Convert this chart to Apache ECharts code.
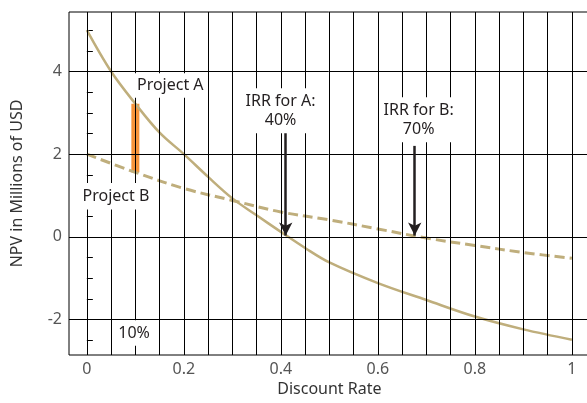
<!DOCTYPE html>
<html><head><meta charset="utf-8">
<script src="https://cdn.jsdelivr.net/npm/echarts@6/dist/echarts.min.js"></script>
<style>html,body{margin:0;padding:0;background:#fff;overflow:hidden}#c{width:587px;height:403px}</style>
</head><body><div id="c"></div>
<script>
// ---- data ----
const ratesA = [0, 0.05, 0.1, 0.15, 0.2, 0.25, 0.3, 0.35, 0.4, 0.45, 0.5, 0.6, 0.7, 0.8, 0.9, 1.0];
const npvA   = [5.0, 4.0, 3.22, 2.52, 2.0, 1.45, 0.93, 0.52, 0.12, -0.27, -0.62, -1.12, -1.53, -1.93, -2.24, -2.49];
const ratesB = [0, 0.1, 0.2, 0.3, 0.4, 0.5, 0.6, 0.7, 0.8, 0.9, 1.0];
const npvB   = [2.0, 1.56, 1.17, 0.88, 0.6, 0.41, 0.19, -0.03, -0.21, -0.38, -0.52];
const spreadRate = 0.1;
const spreadLow = 1.56;
const spreadHigh = 3.22;
const irrA = 0.41;
const irrB = 0.676;
const xTickLabels = [0, 0.2, 0.4, 0.6, 0.8, 1];
const yTickLabels = [-2, 0, 2, 4];
const yMinorTicks = [-2.5, -2, -1.5, -1, -0.5, 0, 0.5, 1, 1.5, 2, 2.5, 3, 3.5, 4, 4.5, 5];
const xGridValues = [0,0.05,0.1,0.15,0.2,0.25,0.3,0.35,0.4,0.45,0.5,0.55,0.6,0.65,0.7,0.75,0.8,0.85,0.9,0.95,1.0];
const xAxisTitle = 'Discount Rate';
const yAxisTitle = 'NPV in Millions of USD';
const textProjectA = 'Project A';
const textProjectB = 'Project B';
const textIrrA = 'IRR for A:\n40%';
const textIrrB = 'IRR for B:\n70%';
const textSpread = '10%';

const FONT = '"Noto Sans", "Open Sans", sans-serif';
const CURVE = '#bfae7c';
const INK = '#231f20';

const chart = echarts.init(document.getElementById('c'), null, {renderer: 'canvas'});

const gridLines = xGridValues.map(v => ({xAxis: v})).concat(yTickLabels.map(v => ({yAxis: v})));

function note(text, x, y, pad) {
  return {
    coord: [x, y], symbol: 'rect', symbolSize: 1,
    itemStyle: {color: 'rgba(0,0,0,0)'},
    label: {
      show: true, position: 'inside', formatter: text,
      fontFamily: FONT, fontSize: 16, color: INK, lineHeight: 18.5,
      backgroundColor: '#fff', padding: pad, align: 'center', verticalAlign: 'middle'
    }
  };
}

const option = {
  animation: false,
  grid: {left: 69, top: 12, width: 532, bottom: 48, show: true, borderColor: '#000', borderWidth: 1,
         containLabel: false, outerBoundsMode: 'none'},
  xAxis: {
    type: 'value', min: -0.0368, max: 1.06,
    axisLine: {show: false}, axisTick: {show: false}, splitLine: {show: false},
    axisLabel: {customValues: xTickLabels, fontFamily: FONT, fontSize: 16, color: '#555', margin: 6,
      formatter: v => String(+v.toFixed(2))}
  },
  yAxis: {
    type: 'value', min: -2.86, max: 5.44,
    name: yAxisTitle, nameLocation: 'middle', nameGap: 44,
    nameTextStyle: {fontFamily: FONT, fontSize: 16, color: '#333'},
    axisLine: {show: false}, splitLine: {show: false},
    axisTick: {show: true, inside: true, length: 6, customValues: yMinorTicks, lineStyle: {color: '#000', width: 1}},
    axisLabel: {customValues: yTickLabels, fontFamily: FONT, fontSize: 16, color: '#555', margin: 7}
  },
  series: [
    {
      name: 'grid', type: 'line', data: [], z: 1, silent: true,
      markLine: {silent: true, symbol: ['none', 'none'], label: {show: false}, animation: false,
        lineStyle: {color: '#000', width: 1, type: 'solid'}, emphasis: {disabled: true},
        data: gridLines}
    },
    {
      name: 'spread', type: 'line', z: 2, showSymbol: false, silent: true,
      data: [[spreadRate, spreadLow], [spreadRate, spreadHigh]],
      lineStyle: {color: '#f7943b', width: 8, cap: 'butt'}
    },
    {
      name: 'Project A', type: 'line', z: 3, showSymbol: false, smooth: 0.35, silent: true,
      data: ratesA.map((r, i) => [r, npvA[i]]),
      lineStyle: {color: CURVE, width: 2.5}
    },
    {
      name: 'Project B', type: 'line', z: 3, showSymbol: false, smooth: 0.35, silent: true,
      data: ratesB.map((r, i) => [r, npvB[i]]),
      lineStyle: {color: CURVE, width: 3, type: [10, 5]}
    },
    {
      name: 'arrows', type: 'line', data: [], z: 4, silent: true,
      markLine: {silent: true, symbol: ['none', 'arrow'], symbolSize: [10, 13], label: {show: false}, animation: false,
        lineStyle: {color: INK, width: 2.5, type: 'solid'}, emphasis: {disabled: true},
        data: [
          [{coord: [irrA, 2.55]}, {coord: [irrA, 0.03]}],
          [{coord: [irrB, 2.2]}, {coord: [irrB, 0.03]}]
        ]}
    },
    {
      name: 'notes', type: 'line', data: [], z: 5, silent: true,
      markPoint: {silent: true, animation: false, data: [
        note(textProjectA, 0.172, 3.66, [3, 3, 3, 3]),
        note(textProjectB, 0.060, 0.98, [5, 3, 3, 3]),
        note(textIrrA, 0.3994, 3.05, [4, 2, 4, 2]),
        note(textIrrB, 0.684, 2.83, [4, 2, 4, 2]),
        note(textSpread, 0.0974, -2.33, [4, 4, 3, 4])
      ]}
    }
  ]
};
chart.setOption(option);
// x-axis title centred under the visible plot (the grid runs past the right edge)
const xPix = chart.convertToPixel({xAxisIndex: 0}, 0.5);
chart.setOption({
  graphic: [{type: 'text', x: xPix, y: 381, style: {text: xAxisTitle, font: '16px ' + FONT, fill: '#333', align: 'center', verticalAlign: 'top'}}]
});
</script>
</body></html>
